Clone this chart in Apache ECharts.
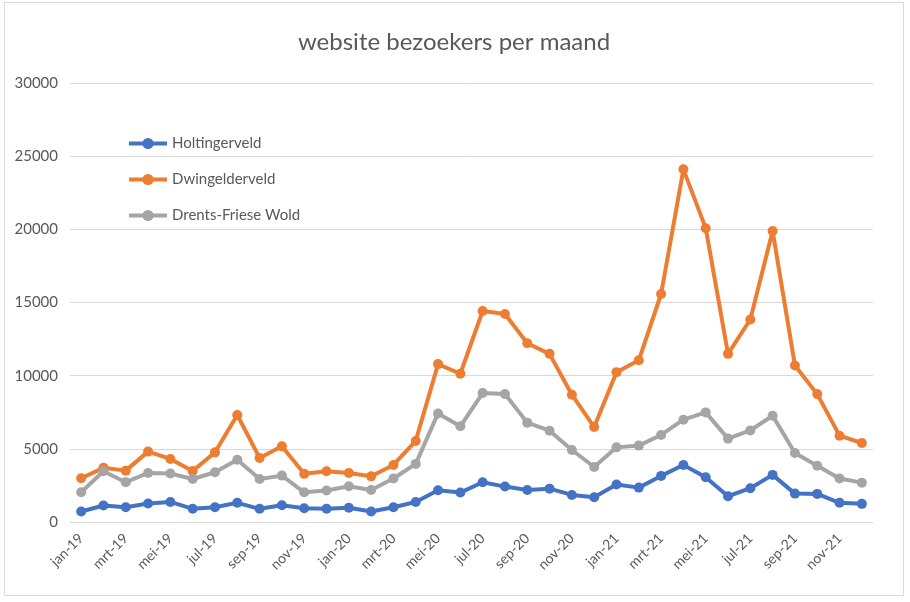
<!DOCTYPE html>
<html>
<head>
<meta charset="utf-8">
<script src="https://cdn.jsdelivr.net/npm/echarts@6/dist/echarts.min.js"></script>
<style>
  html, body { margin: 0; padding: 0; background: #fff; }
  #main { position: absolute; left: 4px; top: 2px; width: 900px; height: 594px; border: 1px solid #d9d9d9; box-sizing: border-box; }
</style>
</head>
<body>
<div id="main"></div>
<script>
var months = ['jan-19', 'feb-19', 'mrt-19', 'apr-19', 'mei-19', 'jun-19', 'jul-19', 'aug-19', 'sep-19', 'okt-19', 'nov-19', 'dec-19',
  'jan-20', 'feb-20', 'mrt-20', 'apr-20', 'mei-20', 'jun-20', 'jul-20', 'aug-20', 'sep-20', 'okt-20', 'nov-20', 'dec-20',
  'jan-21', 'feb-21', 'mrt-21', 'apr-21', 'mei-21', 'jun-21', 'jul-21', 'aug-21', 'sep-21', 'okt-21', 'nov-21', 'dec-21'];

var holtingerveld = [720, 1130, 1010, 1260, 1370, 900, 1010, 1310, 900, 1150, 940, 900,
  970, 720, 1010, 1370, 2170, 2010, 2720, 2420, 2190, 2280, 1850, 1690,
  2560, 2350, 3150, 3900, 3060, 1760, 2310, 3220, 1940, 1920, 1310, 1240];

var dwingelderveld = [2990, 3700, 3510, 4810, 4310, 3490, 4760, 7310, 4380, 5170, 3290, 3470,
  3350, 3120, 3900, 5540, 10790, 10130, 14420, 14220, 12220, 11490, 8700, 6490,
  10240, 11050, 15580, 24100, 20080, 11490, 13840, 19880, 10700, 8740, 5900, 5400];

var drentsFriese = [2030, 3470, 2720, 3350, 3310, 2940, 3400, 4260, 2940, 3170, 2030, 2150,
  2440, 2190, 2970, 3970, 7420, 6540, 8810, 8740, 6790, 6240, 4920, 3760,
  5100, 5220, 5950, 6990, 7490, 5700, 6260, 7260, 4720, 3850, 2970, 2690];

var font = 'Lato, "Liberation Sans", sans-serif';
var textColor = '#595959';

var myChart = echarts.init(document.getElementById('main'));

function lineSeries(name, data, color) {
  return {
    name: name,
    type: 'line',
    data: data,
    symbol: 'circle',
    symbolSize: 10,
    lineStyle: { width: 4, color: color },
    itemStyle: { color: color },
    emphasis: { disabled: true }
  };
}

var option = {
  animation: false,
  textStyle: { fontFamily: font },
  title: {
    text: 'website bezoekers per maand',
    left: 'center',
    top: 22,
    textStyle: { fontFamily: font, fontSize: 24, fontWeight: 'normal', color: textColor }
  },
  legend: {
    orient: 'vertical',
    left: 117,
    top: 128,
    itemWidth: 38,
    itemHeight: 14,
    itemGap: 21,
    lineStyle: { width: 4 },
    textStyle: { fontFamily: font, fontSize: 15, color: textColor },
    data: ['Holtingerveld', 'Dwingelderveld', 'Drents-Friese Wold']
  },
  grid: {
    left: 65,
    right: 30,
    top: 80,
    bottom: 73
  },
  xAxis: {
    type: 'category',
    data: months,
    boundaryGap: true,
    axisLine: { lineStyle: { color: '#d9d9d9', width: 1 } },
    axisTick: { show: false },
    axisLabel: {
      interval: 1,
      rotate: 45,
      color: textColor,
      fontSize: 14,
      fontFamily: font,
      margin: 14
    }
  },
  yAxis: {
    type: 'value',
    min: 0,
    max: 30000,
    interval: 5000,
    axisLine: { show: false },
    axisTick: { show: false },
    axisLabel: {
      color: textColor,
      fontSize: 15,
      fontFamily: font,
      margin: 12,
      formatter: function (v) { return String(v); }
    },
    splitLine: { lineStyle: { color: '#d9d9d9', width: 1 } }
  },
  series: [
    lineSeries('Holtingerveld', holtingerveld, '#4472C4'),
    lineSeries('Dwingelderveld', dwingelderveld, '#ED7D31'),
    lineSeries('Drents-Friese Wold', drentsFriese, '#A5A5A5')
  ]
};

myChart.setOption(option);
</script>
</body>
</html>
